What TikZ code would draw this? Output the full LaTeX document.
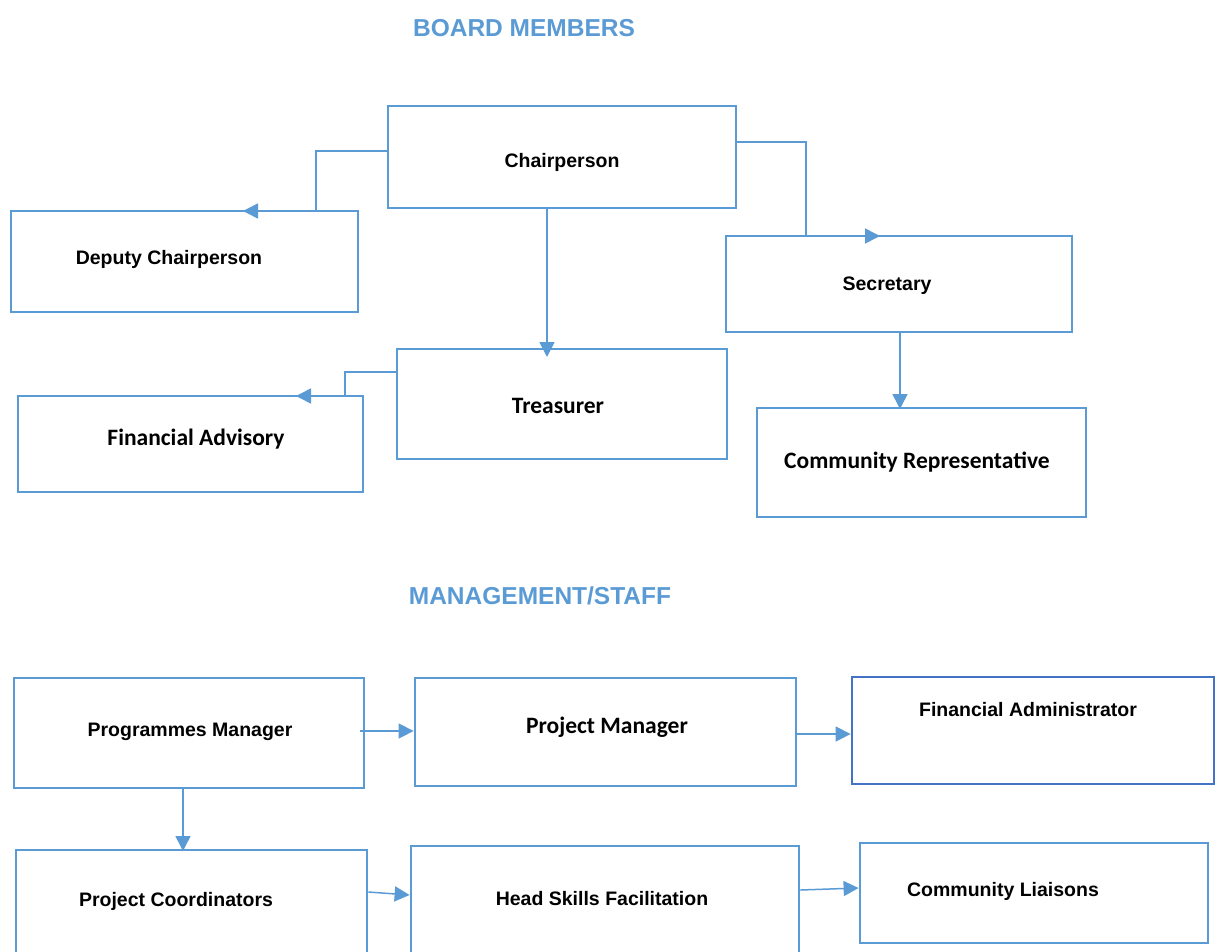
\documentclass[tikz,border=0pt]{standalone}
\usepackage{fontspec}
\setmainfont{Liberation Sans}
\newfontfamily\calib{Carlito}
\usetikzlibrary{arrows.meta}
\definecolor{bl}{HTML}{5B9BD5}
\definecolor{dbl}{HTML}{4472C4}
\tikzset{
  box/.style={draw=bl, line width=2.8pt, rectangle, inner sep=0pt, fill=white},
  atxt/.style={font=\fontsize{19.5}{22}\selectfont\bfseries, inner sep=0pt},
  ctxt/.style={font=\calib\fontsize{23.5}{26}\selectfont\bfseries, inner sep=0pt},
  head/.style={font=\fontsize{24.5}{28}\selectfont\bfseries, text=bl, inner sep=0pt},
  conn/.style={draw=bl, line width=1.5pt},
  arr/.style={conn, -{Triangle[length=15pt,width=15pt]}}
}
\begin{document}
\begin{tikzpicture}[x=1pt,y=-1pt]
\clip (0,0) rectangle (1215,951);
\fill[white] (0,0) rectangle (1215,951);
% headings
\node[head] (h1) at (524,28) {BOARD MEMBERS};
\node[head] (h2) at (540,596) {MANAGEMENT/STAFF};
% board boxes
\node[box, minimum width=348pt, minimum height=102pt] (chair) at (562,157) {};
\node[box, minimum width=347pt, minimum height=101pt] (deputy) at (184.5,261.5) {};
\node[box, minimum width=346pt, minimum height=96pt] (sec) at (899,284) {};
\node[box, minimum width=330pt, minimum height=110pt] (treas) at (562,404) {};
\node[box, minimum width=345pt, minimum height=96pt] (finadv) at (190.5,444) {};
\node[box, minimum width=329pt, minimum height=109pt] (comrep) at (921.5,462.5) {};
% management boxes
\node[box, minimum width=350pt, minimum height=110pt] (progm) at (189,733) {};
\node[box, minimum width=381pt, minimum height=108pt] (projm) at (605.5,732) {};
\node[box, draw=dbl, minimum width=362pt, minimum height=107pt] (finadm) at (1033,730.5) {};
\node[box, minimum width=351pt, minimum height=150pt] (projc) at (191.5,925) {};
\node[box, minimum width=388pt, minimum height=154pt] (heads) at (605,923) {};
\node[box, minimum width=348pt, minimum height=100pt] (coml) at (1034,893) {};
% labels
\node[atxt] (tchair) at (562,162) {Chairperson};
\node[atxt] (tdeputy) at (169,259) {Deputy Chairperson};
\node[atxt] (tsec) at (887,286) {Secretary};
\node[ctxt] (ttreas) at (558,406) {Treasurer};
\node[ctxt] (tfinadv) at (196,439) {Financial Advisory};
\node[ctxt] (tcomrep) at (917,462) {Community Representative};
\node[atxt] (tprogm) at (190,732) {Programmes Manager};
\node[ctxt] (tprojm) at (607,727) {Project Manager};
\node[atxt] (tfinadm) at (1028,710) {Financial Administrator};
\node[atxt] (tprojc) at (176,901) {Project Coordinators};
\node[atxt] (theads) at (602,899) {Head Skills Facilitation};
\node[atxt] (tcoml) at (1003,891) {Community Liaisons};
% board connectors
\coordinate (c1) at (316,211);
\coordinate (c1e) at (243,211);
\draw[conn] (chair.west |- 0,151) -| (c1);
\draw[arr] (c1) -- (c1e);
\coordinate (c2) at (806,236);
\coordinate (c2e) at (880,236);
\draw[conn] (chair.east |- 0,142) -| (c2);
\draw[arr] (c2) -- (c2e);
\draw[arr] (chair.south -| 547,0) -- (547,357);
\coordinate (c3) at (345,396);
\coordinate (c3e) at (296,396);
\draw[conn] (treas.west |- 0,372) -| (c3);
\draw[arr] (c3) -- (c3e);
\draw[arr] (sec.south -| 900,0) -- (900,409);
% management connectors
\draw[arr] (360,731) -- (projm.west |- 0,731);
\draw[arr] (projm.east |- 0,734) -- (finadm.west |- 0,734);
\draw[arr] (progm.south -| 183,0) -- (183,851);
\draw[arr] (projc.east |- 0,892) -- (heads.west |- 0,895);
\draw[arr] (heads.east |- 0,890) -- (coml.west |- 0,888);
\end{tikzpicture}
\end{document}
